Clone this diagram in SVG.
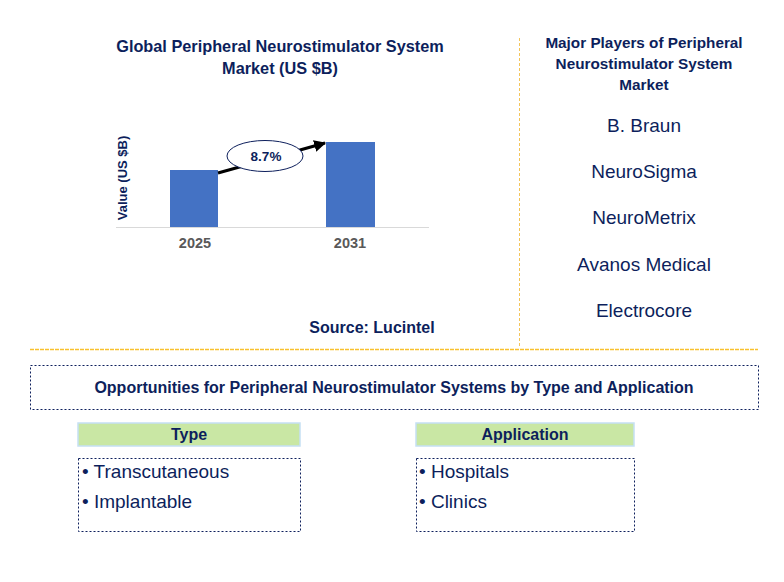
<svg xmlns="http://www.w3.org/2000/svg" width="784" height="582" viewBox="0 0 784 582">
<defs>
<style>
text{font-family:"Liberation Sans",Arial,sans-serif;fill:#0d1f5c}
.b{font-weight:bold}
.t15{font-size:15px}
.c18{font-size:19px}
.yr{font-size:14.5px;font-weight:bold;fill:#595959}
.dot{fill:none;stroke:#0d1f5c;stroke-width:1;stroke-dasharray:2,2}
.hdr{fill:#c9e7a4;stroke:#c5e0f4;stroke-width:1.5}
.bar{fill:#4472c4}
</style>
<marker id="ah" viewBox="0 0 10 10" refX="9" refY="5" markerWidth="4" markerHeight="4" orient="auto">
<path d="M0,0 L10,5 L0,10 z" fill="#000"/>
</marker>
</defs>
<rect width="784" height="582" fill="#fff"/>

<g id="chart">
<text class="b" font-size="16.3" x="280" y="52" text-anchor="middle">Global Peripheral Neurostimulator System</text>
<text class="b" font-size="16.3" x="280" y="74" text-anchor="middle">Market (US $B)</text>
<text class="b" font-size="13" transform="translate(127,178) rotate(-90)" text-anchor="middle">Value (US $B)</text>
<rect class="bar" x="170" y="170" width="48" height="57"/>
<rect class="bar" x="326" y="142" width="49" height="85"/>
<line x1="116" y1="227.5" x2="429" y2="227.5" stroke="#d9d9d9" stroke-width="1"/>
<text class="yr" x="195" y="248" text-anchor="middle">2025</text>
<text class="yr" x="350" y="248" text-anchor="middle">2031</text>
<text class="b" font-size="16" x="372" y="333" text-anchor="middle">Source: Lucintel</text>
</g>

<g id="connectors">
<line x1="218" y1="173" x2="325" y2="143" stroke="#000" stroke-width="3" marker-end="url(#ah)"/>
<line x1="519.5" y1="38" x2="519.5" y2="348" stroke="#f3c45a" stroke-width="1" stroke-dasharray="3,2"/>
<line x1="30" y1="349.5" x2="758" y2="349.5" stroke="#f9c12e" stroke-width="1.5" stroke-dasharray="4,1"/>
</g>

<g id="cagr">
<ellipse cx="265" cy="156" rx="38" ry="15.5" fill="#fff" stroke="#0d1f5c" stroke-width="1"/>
<text class="b" font-size="13.5" x="266" y="161" text-anchor="middle">8.7%</text>
</g>

<g id="players">
<text class="b" font-size="15.3" x="644" y="48" text-anchor="middle">Major Players of Peripheral</text>
<text class="b" font-size="15.3" x="644" y="69" text-anchor="middle">Neurostimulator System</text>
<text class="b" font-size="15.3" x="644" y="90" text-anchor="middle">Market</text>
<text class="c18" x="644" y="132" text-anchor="middle">B. Braun</text>
<text class="c18" x="644" y="178" text-anchor="middle">NeuroSigma</text>
<text class="c18" x="644" y="224" text-anchor="middle">NeuroMetrix</text>
<text class="c18" x="644" y="271" text-anchor="middle">Avanos Medical</text>
<text class="c18" x="644" y="317" text-anchor="middle">Electrocore</text>
</g>

<g id="opportunities">
<rect class="dot" x="30.5" y="365.5" width="728" height="44"/>
<text class="b" font-size="16" x="394" y="393" text-anchor="middle">Opportunities for Peripheral Neurostimulator Systems by Type and Application</text>
</g>

<g id="type">
<rect class="hdr" x="78" y="423" width="222" height="23"/>
<text class="b" font-size="16" x="189" y="440" text-anchor="middle">Type</text>
<rect class="dot" x="78.5" y="458.5" width="222" height="73"/>
<text class="c18" x="82" y="478">• Transcutaneous</text>
<text class="c18" x="82" y="508">• Implantable</text>
</g>

<g id="application">
<rect class="hdr" x="416" y="423" width="218" height="23"/>
<text class="b" font-size="16" x="525" y="440" text-anchor="middle">Application</text>
<rect class="dot" x="416.5" y="458.5" width="218" height="73"/>
<text class="c18" x="419" y="478">• Hospitals</text>
<text class="c18" x="419" y="508">• Clinics</text>
</g>
</svg>
